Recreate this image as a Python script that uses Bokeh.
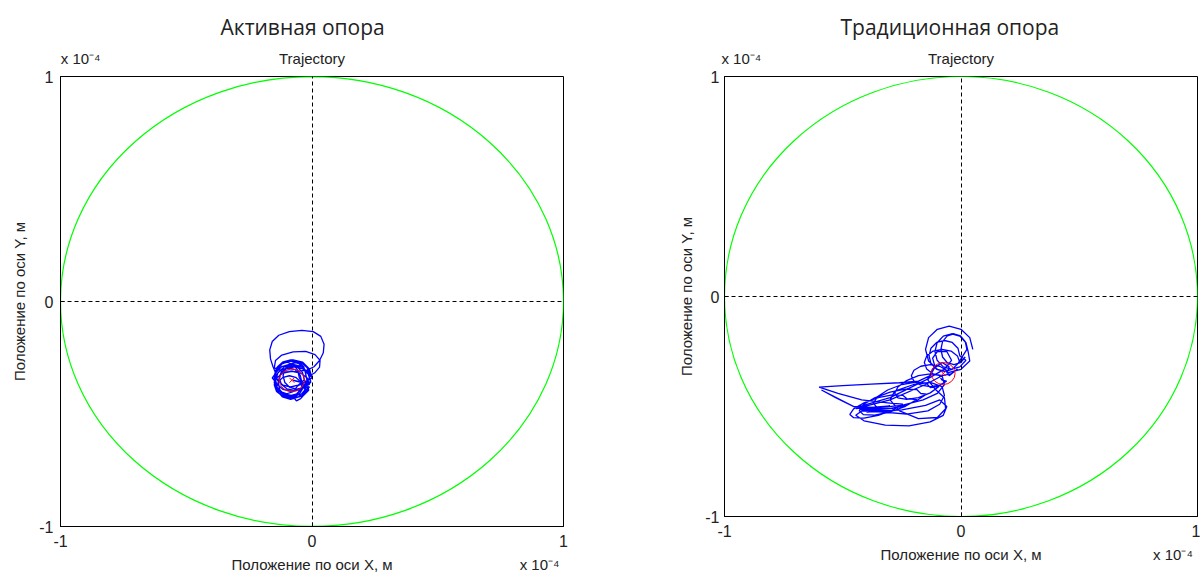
from bokeh.plotting import figure
from bokeh.models import Range1d, FixedTicker, LinearAxis
from bokeh.layouts import row
from bokeh.embed import file_html
from bokeh.resources import INLINE

# ---------------- data (positions in units of 1e-4 m) ----------------
TITLES = ["Активная опора", "Традиционная опора"]
SUBTITLE = "Trajectory"
X_LABEL = "Положение по оси X, м"
Y_LABEL = "Положение по оси Y, м"
TICKS = [-1, 0, 1]
TICK_LABELS = {-1: "-1", 0: "0", 1: "1"}
SCALE_TEXT = ["x 10⁻⁴", "x  10⁻⁴"]
CLEARANCE_DIAMETER = 2.0
LEFT_CENTER = [-0.08, -0.35]
RIGHT_CENTER = [-0.075, -0.35]
MEAN_DIAMETER = 0.10

LEFT_TRAJ = [
    (-0.140, -0.330), (-0.155, -0.290), (-0.165, -0.255), (-0.168, -0.215), (-0.158, -0.178),
    (-0.132, -0.150), (-0.090, -0.134), (-0.040, -0.128), (0.005, -0.134), (0.035, -0.155),
    (0.048, -0.190), (0.045, -0.228), (0.030, -0.262), (0.008, -0.290), (-0.020, -0.305),
    (-0.070, -0.312), (-0.120, -0.308), (-0.150, -0.295), (-0.145, -0.262), (-0.120, -0.238),
    (-0.075, -0.224), (-0.025, -0.222), (0.012, -0.236), (0.032, -0.262), (0.030, -0.292),
    (0.010, -0.318),
    (-0.010, -0.330), (-0.019, -0.295), (-0.045, -0.269), (-0.080, -0.260), (-0.115, -0.269),
    (-0.141, -0.295), (-0.150, -0.330), (-0.141, -0.365), (-0.115, -0.391), (-0.080, -0.400),
    (-0.045, -0.391), (-0.019, -0.365),
    (-0.030, -0.350), (-0.038, -0.315), (-0.060, -0.289), (-0.090, -0.280), (-0.120, -0.289),
    (-0.142, -0.315), (-0.158, -0.340), (-0.150, -0.350), (-0.142, -0.385), (-0.120, -0.411),
    (-0.090, -0.420), (-0.060, -0.411), (-0.038, -0.385),
    (-0.005, -0.360), (-0.013, -0.325), (-0.037, -0.299), (-0.070, -0.290), (-0.103, -0.299),
    (-0.127, -0.325), (-0.135, -0.360), (-0.127, -0.395), (-0.103, -0.421), (-0.070, -0.430),
    (-0.062, -0.442), (-0.045, -0.432), (-0.037, -0.421), (-0.013, -0.395),
    (-0.025, -0.320), (-0.033, -0.290), (-0.055, -0.268), (-0.085, -0.260), (-0.115, -0.268),
    (-0.137, -0.290), (-0.145, -0.320), (-0.137, -0.350), (-0.115, -0.372), (-0.085, -0.380),
    (-0.055, -0.372), (-0.033, -0.350),
    (-0.010, -0.370), (-0.019, -0.340), (-0.045, -0.318), (-0.080, -0.310), (-0.115, -0.318),
    (-0.141, -0.340), (-0.150, -0.370), (-0.141, -0.400), (-0.115, -0.422), (-0.080, -0.430),
    (-0.045, -0.422), (-0.019, -0.400),
    (-0.050, -0.340), (-0.057, -0.305), (-0.075, -0.279), (-0.100, -0.270), (-0.125, -0.279),
    (-0.143, -0.305), (-0.150, -0.340), (-0.143, -0.375), (-0.125, -0.401), (-0.100, -0.410),
    (-0.075, -0.401), (-0.057, -0.375),
    (0.000, -0.340), (-0.010, -0.300), (-0.037, -0.270), (-0.075, -0.260), (-0.113, -0.270),
    (-0.140, -0.300), (-0.150, -0.340), (-0.140, -0.380), (-0.113, -0.410), (-0.075, -0.420),
    (-0.037, -0.410), (-0.010, -0.380),
    (-0.040, -0.380), (-0.047, -0.355), (-0.065, -0.337), (-0.090, -0.330), (-0.115, -0.337),
    (-0.133, -0.355), (-0.140, -0.380), (-0.133, -0.405), (-0.115, -0.423), (-0.090, -0.430),
    (-0.065, -0.423), (-0.047, -0.405),
    (-0.005, -0.330), (-0.012, -0.300), (-0.032, -0.278), (-0.060, -0.270), (-0.088, -0.278),
    (-0.108, -0.300), (-0.115, -0.330), (-0.108, -0.360), (-0.088, -0.382), (-0.060, -0.390),
    (-0.032, -0.382), (-0.012, -0.360),
    (-0.005, -0.355), (-0.014, -0.318), (-0.040, -0.290), (-0.075, -0.280), (-0.110, -0.290),
    (-0.136, -0.318), (-0.145, -0.355), (-0.136, -0.393), (-0.110, -0.420), (-0.075, -0.430),
    (-0.040, -0.420), (-0.014, -0.393),
    (-0.040, -0.360), (-0.047, -0.327), (-0.067, -0.303), (-0.095, -0.295), (-0.123, -0.303),
    (-0.143, -0.327), (-0.150, -0.360), (-0.143, -0.393), (-0.123, -0.417), (-0.095, -0.425),
    (-0.067, -0.417), (-0.047, -0.393),
    (-0.010, -0.340), (-0.018, -0.312), (-0.040, -0.292), (-0.070, -0.285), (-0.100, -0.292),
    (-0.122, -0.312), (-0.130, -0.340), (-0.122, -0.368), (-0.100, -0.388), (-0.070, -0.395),
    (-0.040, -0.388), (-0.018, -0.368),
    (-0.020, -0.350), (-0.028, -0.308), (-0.052, -0.276), (-0.085, -0.265), (-0.118, -0.276),
    (-0.142, -0.308), (-0.150, -0.350), (-0.142, -0.393), (-0.118, -0.424), (-0.085, -0.435),
    (-0.052, -0.424), (-0.028, -0.393), (-0.040, -0.360), (-0.075, -0.350),
]

RIGHT_TRAJ = [
    (0.050, -0.240), (0.037, -0.187), (0.000, -0.149), (-0.050, -0.135), (-0.100, -0.149),
    (-0.137, -0.187), (-0.150, -0.240), (-0.137, -0.293), (-0.100, -0.331), (-0.050, -0.345),
    (0.000, -0.331), (0.037, -0.293),
    (0.030, -0.250), (0.021, -0.210), (-0.005, -0.180), (-0.040, -0.170), (-0.075, -0.180),
    (-0.101, -0.210), (-0.110, -0.250), (-0.101, -0.290), (-0.075, -0.320), (-0.040, -0.330),
    (-0.005, -0.320), (0.021, -0.290),
    (-0.005, -0.270), (-0.013, -0.235), (-0.037, -0.209), (-0.070, -0.200), (-0.103, -0.209),
    (-0.127, -0.235), (-0.135, -0.270), (-0.127, -0.305), (-0.103, -0.331), (-0.070, -0.340),
    (-0.037, -0.331), (-0.013, -0.305),
    (0.025, -0.240), (0.018, -0.205), (-0.002, -0.179), (-0.030, -0.170), (-0.058, -0.179),
    (-0.078, -0.205), (-0.085, -0.240), (-0.078, -0.275), (-0.058, -0.301), (-0.030, -0.310),
    (-0.002, -0.301), (0.018, -0.275),
    (-0.005, -0.300), (-0.015, -0.270), (-0.042, -0.248), (-0.080, -0.240), (-0.118, -0.248),
    (-0.145, -0.270), (-0.155, -0.300), (-0.145, -0.330), (-0.118, -0.352), (-0.080, -0.360),
    (-0.042, -0.352), (-0.015, -0.330),
    (-0.050, -0.360), (-0.061, -0.335), (-0.090, -0.317), (-0.130, -0.310), (-0.170, -0.317),
    (-0.199, -0.335), (-0.210, -0.360), (-0.199, -0.385), (-0.170, -0.403), (-0.130, -0.410),
    (-0.090, -0.403), (-0.061, -0.385),
    (-0.080, -0.380), (-0.093, -0.359), (-0.130, -0.352), (-0.180, -0.360), (-0.230, -0.382),
    (-0.267, -0.411), (-0.280, -0.440), (-0.267, -0.461), (-0.230, -0.468), (-0.180, -0.460),
    (-0.130, -0.438), (-0.093, -0.409),
    (-0.130, -0.414), (-0.146, -0.394), (-0.190, -0.389), (-0.250, -0.400), (-0.310, -0.425),
    (-0.354, -0.456), (-0.370, -0.486), (-0.354, -0.506), (-0.310, -0.511), (-0.250, -0.500),
    (-0.190, -0.475), (-0.146, -0.444),
    (-0.170, -0.441), (-0.187, -0.423), (-0.235, -0.421), (-0.300, -0.435), (-0.365, -0.461),
    (-0.413, -0.491), (-0.430, -0.519), (-0.413, -0.537), (-0.365, -0.539), (-0.300, -0.525),
    (-0.235, -0.499), (-0.187, -0.469),
    (-0.230, -0.464), (-0.246, -0.449), (-0.290, -0.447), (-0.350, -0.460), (-0.410, -0.483),
    (-0.454, -0.511), (-0.470, -0.536), (-0.454, -0.551), (-0.410, -0.553), (-0.350, -0.540),
    (-0.290, -0.517), (-0.246, -0.489),
    (-0.300, -0.485), (-0.420, -0.470), (-0.520, -0.440), (-0.600, -0.412), (-0.500, -0.405),
    (-0.380, -0.398), (-0.260, -0.392), (-0.180, -0.385), (-0.130, -0.360), (-0.110, -0.320),
    (-0.120, -0.280), (-0.100, -0.250), (-0.060, -0.250), (-0.040, -0.290), (-0.070, -0.330),
    (-0.150, -0.380), (-0.300, -0.460), (-0.445, -0.505), (-0.590, -0.425), (-0.530, -0.460),
    (-0.455, -0.500), (-0.350, -0.505), (-0.250, -0.495), (-0.160, -0.470), (-0.100, -0.440),
    (-0.070, -0.400), (-0.080, -0.360), (-0.150, -0.400), (-0.300, -0.470), (-0.445, -0.510),
    (-0.300, -0.497), (-0.430, -0.514), (-0.285, -0.508), (-0.420, -0.520), (-0.270, -0.518),
    (-0.400, -0.526), (-0.250, -0.515), (-0.150, -0.495), (-0.090, -0.470),
    (-0.060, -0.500), (-0.075, -0.540), (-0.130, -0.570), (-0.220, -0.588), (-0.320, -0.585),
    (-0.410, -0.565), (-0.445, -0.540), (-0.420, -0.520), (-0.330, -0.525), (-0.230, -0.535),
    (-0.140, -0.520), (-0.090, -0.490), (-0.070, -0.450), (-0.080, -0.410), (-0.130, -0.390),
    (-0.200, -0.400), (-0.280, -0.430), (-0.300, -0.470), (-0.260, -0.520), (-0.180, -0.555),
    (-0.100, -0.550), (-0.065, -0.510), (-0.070, -0.460), (-0.110, -0.420), (-0.140, -0.380),
    (-0.120, -0.330), (-0.080, -0.300), (-0.050, -0.320), (-0.060, -0.350),
]

LABEL_FONT = "Liberation Sans"
TEXT_COLOR = "#222222"

# positions (data units) where the text rows outside the box are centred
TOP_ROW_POS = [-0.92, 0.0]
BOTTOM_ROW_POS = [0.0, 0.905]


def text_axis(p, side, ticks, labels, size, standoff):
    ax = LinearAxis(ticker=FixedTicker(ticks=ticks),
                    major_label_overrides=dict(zip(ticks, labels)))
    ax.axis_line_color = None
    ax.major_tick_line_color = None
    ax.minor_tick_line_color = None
    ax.major_label_text_font = LABEL_FONT
    ax.major_label_text_font_size = size
    ax.major_label_text_color = TEXT_COLOR
    ax.major_label_standoff = standoff
    p.add_layout(ax, side)
    return ax


def make_panel(title, traj, center, scale_text, width, height, bl, br, ytick_standoff,
               ylabel_standoff, title_offset):
    p = figure(width=width, height=height, output_backend="svg", toolbar_location=None,
               x_range=Range1d(-1, 1), y_range=Range1d(-1, 1))
    p.min_border_left = bl
    p.min_border_right = br
    p.min_border_top = 76
    p.min_border_bottom = 50
    p.background_fill_color = "white"
    p.border_fill_color = "white"
    p.outline_line_color = "black"
    p.outline_line_width = 1

    # main title (outermost)
    p.title.text = title
    p.title.align = "left"
    p.title.offset = title_offset
    p.title.text_font = "Open Sans"
    p.title.text_font_size = "21px"
    p.title.text_font_style = "normal"
    p.title.text_color = TEXT_COLOR
    p.title.standoff = 11

    # main axes
    xax = p.xaxis[0]
    yax = p.yaxis[0]
    for ax in (xax, yax):
        ax.ticker = FixedTicker(ticks=TICKS)
        ax.major_label_overrides = TICK_LABELS
        ax.major_label_text_font = LABEL_FONT
        ax.major_label_text_font_size = "16px"
        ax.major_label_text_color = TEXT_COLOR
        ax.axis_line_color = "black"
        ax.major_tick_in = 4
        ax.major_tick_out = 0
        ax.major_tick_line_color = "black"
        ax.minor_tick_line_color = None
    xax.major_label_standoff = 8
    yax.major_label_standoff = ytick_standoff
    yax.axis_label = Y_LABEL
    yax.axis_label_text_font = LABEL_FONT
    yax.axis_label_text_font_size = "15px"
    yax.axis_label_text_font_style = "normal"
    yax.axis_label_text_color = TEXT_COLOR
    yax.axis_label_standoff = ylabel_standoff

    # text rows: subtitle + multiplier above the box, x label + multiplier below it
    text_axis(p, "above", TOP_ROW_POS, [scale_text, SUBTITLE], "15px", 4)
    text_axis(p, "below", BOTTOM_ROW_POS, [X_LABEL, scale_text], "15px", 0)

    # dashed grid lines
    p.xgrid.ticker = FixedTicker(ticks=[0, 1])
    p.ygrid.ticker = FixedTicker(ticks=[-1, 0])
    for g in (p.xgrid[0], p.ygrid[0]):
        g.grid_line_color = "black"
        g.grid_line_dash = "4 3"
        g.grid_line_width = 1
        g.level = "overlay"

    # clearance circle
    p.ellipse(x=[0], y=[0], width=[CLEARANCE_DIAMETER], height=[CLEARANCE_DIAMETER],
              fill_color=None, line_color="#00ff00", line_width=1.2)

    # trajectory
    xs = [pt[0] for pt in traj]
    ys = [pt[1] for pt in traj]
    p.line(xs, ys, line_color="#0000ff", line_width=1.3)

    # mean orbit circle and centre
    p.ellipse(x=[center[0]], y=[center[1]], width=[MEAN_DIAMETER], height=[MEAN_DIAMETER],
              fill_color=None, line_color="#ff0000", line_width=1)
    p.scatter(x=[center[0]], y=[center[1]], marker="x", size=7, line_color="#ff0000")
    return p


p1 = make_panel(TITLES[0], LEFT_TRAJ, LEFT_CENTER, SCALE_TEXT[0], 632, 576, 60, 69, 7, 8, 160)
p2 = make_panel(TITLES[1], RIGHT_TRAJ, RIGHT_CENTER, SCALE_TEXT[1], 568, 566, 92, 3, 5, 7, 116)

layout = row(p1, p2)
open("out.html", "w").write(file_html(layout, INLINE))
